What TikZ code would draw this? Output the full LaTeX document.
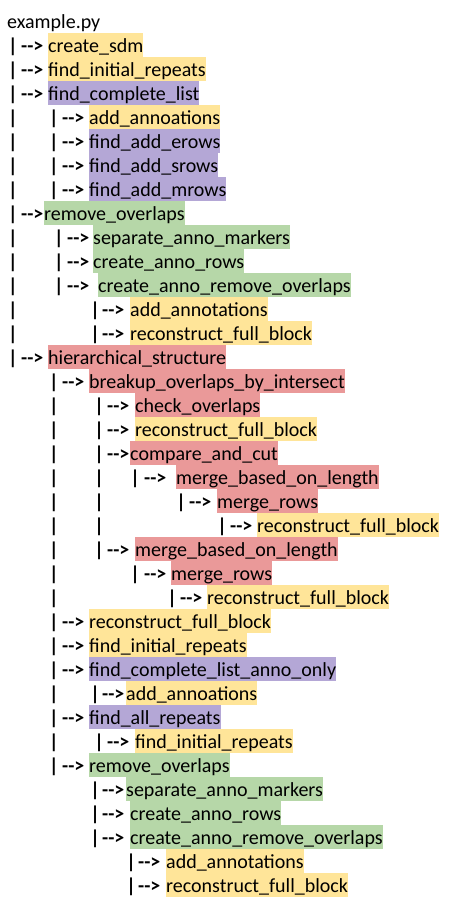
\documentclass[tikz,border=0pt]{standalone}
\usepackage{fontspec}
\setmainfont{Carlito}
\usepackage{xcolor}
\usepackage{tikz}
\definecolor{hlyellow}{HTML}{FFE599}
\definecolor{hlpurple}{HTML}{B4A7D6}
\definecolor{hlgreen}{HTML}{B6D7A8}
\definecolor{hlred}{HTML}{EA9999}

\begin{document}
\begin{tikzpicture}[x=1pt,y=-1pt,
    every node/.style={inner sep=0pt,font=\fontsize{20}{24}\selectfont},
    pipe/.style={anchor=base,font=\fontsize{20}{24}\selectfont\bfseries},
    arr/.style={anchor=base west,font=\fontsize{20}{24}\selectfont\bfseries},
    fn/.style={anchor=base west,text height=19pt,text depth=5pt},
    fnY/.style={fn,fill=hlyellow},
    fnP/.style={fn,fill=hlpurple},
    fnG/.style={fn,fill=hlgreen},
    fnR/.style={fn,fill=hlred}]
    \useasboundingbox (0,0) rectangle (450,913);
    \node[anchor=base west] (top) at (7,28) {example.py};

    \node[pipe] (p1) at (13,52) {|};
    \node[arr] (a1) at (21,52) {-{}->};
    \node[fnY] (f1) at (48,52) {create\_sdm};
    \node[pipe] (p2) at (13,76) {|};
    \node[arr] (a2) at (21,76) {-{}->};
    \node[fnY] (f2) at (48,76) {find\_initial\_repeats};
    \node[pipe] (p3) at (13,100) {|};
    \node[arr] (a3) at (21,100) {-{}->};
    \node[fnP] (f3) at (48,100) {find\_complete\_list};
    \node[pipe] (q4) at (13,124) {|};
    \node[pipe] (p4) at (54,124) {|};
    \node[arr] (a4) at (62,124) {-{}->};
    \node[fnY] (f4) at (89,124) {add\_annoations};
    \node[pipe] (q5) at (13,148) {|};
    \node[pipe] (p5) at (54,148) {|};
    \node[arr] (a5) at (62,148) {-{}->};
    \node[fnP] (f5) at (89,148) {find\_add\_erows};
    \node[pipe] (q6) at (13,172) {|};
    \node[pipe] (p6) at (54,172) {|};
    \node[arr] (a6) at (62,172) {-{}->};
    \node[fnP] (f6) at (89,172) {find\_add\_srows};
    \node[pipe] (q7) at (13,196) {|};
    \node[pipe] (p7) at (54,196) {|};
    \node[arr] (a7) at (62,196) {-{}->};
    \node[fnP] (f7) at (89,196) {find\_add\_mrows};

    \node[pipe] (p8) at (13,220) {|};
    \node[arr] (a8) at (21,220) {-{}->};
    \node[fnG] (f8) at (44,220) {remove\_overlaps};
    \node[pipe] (q9) at (13,244) {|};
    \node[pipe] (p9) at (59,244) {|};
    \node[arr] (a9) at (67,244) {-{}->};
    \node[fnG] (f9) at (93,244) {separate\_anno\_markers};
    \node[pipe] (q10) at (13,268) {|};
    \node[pipe] (p10) at (59,268) {|};
    \node[arr] (a10) at (67,268) {-{}->};
    \node[fnG] (f10) at (93,268) {create\_anno\_rows};
    \node[pipe] (q11) at (13,292) {|};
    \node[pipe] (p11) at (59,292) {|};
    \node[arr] (a11) at (67,292) {-{}->};
    \node[fnG] (f11) at (98,292) {create\_anno\_remove\_overlaps};
    \node[pipe] (q12) at (13,316) {|};
    \node[pipe] (p12) at (95,316) {|};
    \node[arr] (a12) at (102,316) {-{}->};
    \node[fnY] (f12) at (130,316) {add\_annotations};
    \node[pipe] (q13) at (13,340) {|};
    \node[pipe] (p13) at (95,340) {|};
    \node[arr] (a13) at (102,340) {-{}->};
    \node[fnY] (f13) at (130,340) {reconstruct\_full\_block};

    \node[pipe] (p14) at (13,364) {|};
    \node[arr] (a14) at (21,364) {-{}->};
    \node[fnR] (f14) at (48,364) {hierarchical\_structure};
    \node[pipe] (p15) at (54,388) {|};
    \node[arr] (a15) at (62,388) {-{}->};
    \node[fnR] (f15) at (89,388) {breakup\_overlaps\_by\_intersect};
    \node[pipe] (q16) at (54,412) {|};
    \node[pipe] (p16) at (99,412) {|};
    \node[arr] (a16) at (107,412) {-{}->};
    \node[fnR] (f16) at (135,412) {check\_overlaps};
    \node[pipe] (q17) at (54,436) {|};
    \node[pipe] (p17) at (99,436) {|};
    \node[arr] (a17) at (107,436) {-{}->};
    \node[fnY] (f17) at (135,436) {reconstruct\_full\_block};
    \node[pipe] (q18) at (54,460) {|};
    \node[pipe] (p18) at (99,460) {|};
    \node[arr] (a18) at (107,460) {-{}->};
    \node[fnR] (f18) at (130,460) {compare\_and\_cut};
    \node[pipe] (q19) at (54,484) {|};
    \node[pipe] (r19) at (99,484) {|};
    \node[pipe] (p19) at (135,484) {|};
    \node[arr] (a19) at (144,484) {-{}->};
    \node[fnR] (f19) at (176,484) {merge\_based\_on\_length};
    \node[pipe] (q20) at (54,508) {|};
    \node[pipe] (r20) at (99,508) {|};
    \node[pipe] (p20) at (181,508) {|};
    \node[arr] (a20) at (189,508) {-{}->};
    \node[fnR] (f20) at (217,508) {merge\_rows};
    \node[pipe] (q21) at (54,532) {|};
    \node[pipe] (r21) at (99,532) {|};
    \node[pipe] (p21) at (222,532) {|};
    \node[arr] (a21) at (230,532) {-{}->};
    \node[fnY] (f21) at (257,532) {reconstruct\_full\_block};
    \node[pipe] (q22) at (54,556) {|};
    \node[pipe] (p22) at (99,556) {|};
    \node[arr] (a22) at (107,556) {-{}->};
    \node[fnR] (f22) at (135,556) {merge\_based\_on\_length};
    \node[pipe] (q23) at (54,580) {|};
    \node[pipe] (p23) at (135,580) {|};
    \node[arr] (a23) at (144,580) {-{}->};
    \node[fnR] (f23) at (171,580) {merge\_rows};
    \node[pipe] (q24) at (54,604) {|};
    \node[pipe] (p24) at (172,604) {|};
    \node[arr] (a24) at (180,604) {-{}->};
    \node[fnY] (f24) at (207,604) {reconstruct\_full\_block};

    \node[pipe] (p25) at (54,628) {|};
    \node[arr] (a25) at (62,628) {-{}->};
    \node[fnY] (f25) at (89,628) {reconstruct\_full\_block};
    \node[pipe] (p26) at (54,652) {|};
    \node[arr] (a26) at (62,652) {-{}->};
    \node[fnY] (f26) at (89,652) {find\_initial\_repeats};
    \node[pipe] (p27) at (54,676) {|};
    \node[arr] (a27) at (62,676) {-{}->};
    \node[fnP] (f27) at (89,676) {find\_complete\_list\_anno\_only};
    \node[pipe] (q28) at (54,700) {|};
    \node[pipe] (p28) at (95,700) {|};
    \node[arr] (a28) at (102,700) {-{}->};
    \node[fnY] (f28) at (126,700) {add\_annoations};
    \node[pipe] (p29) at (54,724) {|};
    \node[arr] (a29) at (62,724) {-{}->};
    \node[fnP] (f29) at (89,724) {find\_all\_repeats};
    \node[pipe] (q30) at (54,748) {|};
    \node[pipe] (p30) at (99,748) {|};
    \node[arr] (a30) at (107,748) {-{}->};
    \node[fnY] (f30) at (135,748) {find\_initial\_repeats};

    \node[pipe] (p31) at (54,772) {|};
    \node[arr] (a31) at (62,772) {-{}->};
    \node[fnG] (f31) at (89,772) {remove\_overlaps};
    \node[pipe] (p32) at (95,796) {|};
    \node[arr] (a32) at (102,796) {-{}->};
    \node[fnG] (f32) at (126,796) {separate\_anno\_markers};
    \node[pipe] (p33) at (95,820) {|};
    \node[arr] (a33) at (102,820) {-{}->};
    \node[fnG] (f33) at (130,820) {create\_anno\_rows};
    \node[pipe] (p34) at (95,844) {|};
    \node[arr] (a34) at (102,844) {-{}->};
    \node[fnG] (f34) at (130,844) {create\_anno\_remove\_overlaps};
    \node[pipe] (p35) at (131,868) {|};
    \node[arr] (a35) at (138,868) {-{}->};
    \node[fnY] (f35) at (166,868) {add\_annotations};
    \node[pipe] (p36) at (131,892) {|};
    \node[arr] (a36) at (138,892) {-{}->};
    \node[fnY] (f36) at (166,892) {reconstruct\_full\_block};
\end{tikzpicture}
\end{document}
